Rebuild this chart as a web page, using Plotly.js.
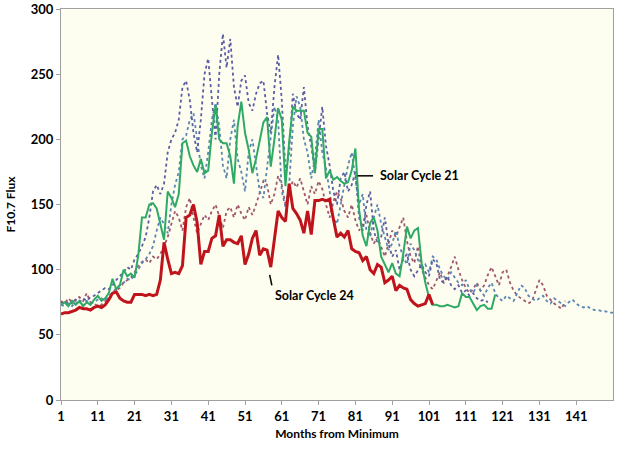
<!DOCTYPE html>
<html>
<head>
<meta charset="utf-8">
<script src="https://cdn.plot.ly/plotly-3.0.1.min.js"></script>
<style>html,body{margin:0;padding:0;background:#fff;}#chart{width:624px;height:450px;}</style>
</head>
<body>
<div id="chart"></div>
<script>
// Months from minimum tick labels
const tickMonths = [1, 11, 21, 31, 41, 51, 61, 71, 81, 91, 101, 111, 121, 131, 141];

// Solar Cycle 24 (solid red)
const cycle24 = [66,67,67,68,69,71,70,70,69,71,72,71,73,77,82,83,78,76,75,75,
81,81,81,80,81,80,81,92,121,108,97,98,97,103,140,142,150,136,104,114,
114,124,126,142,118,123,123,121,120,126,104,112,124,130,111,116,115,102,125,145,
140,137,166,147,143,138,128,145,127,153,153,154,153,154,139,125,128,125,130,116,
114,113,107,110,100,97,104,102,90,92,95,84,88,86,85,77,74,72,73,74,81,73];

// Solar Cycle 21 (solid green)
const cycle21 = [73,75,72,76,73,76,72,75,73,77,80,76,78,82,93,85,88,100,95,97,
94,111,140,140,150,151,147,136,123,160,155,148,158,197,199,187,180,175,185,174,
176,205,226,200,197,197,187,166,210,229,205,192,174,185,200,213,217,179,200,224,
215,164,198,225,222,222,222,205,202,174,208,208,170,176,169,171,168,166,167,176,
193,146,126,118,136,140,130,110,104,98,105,97,95,112,133,124,130,132,105,90,
79,73,73,72,72,73,72,71,72,82,79,79,74,69,72,73,70,70,81];

// Dotted cycle (high peaks, blue-violet)
const cycleA = [75,73,76,74,77,75,78,76,79,80,82,84,86,85,88,92,95,98,102,100,
108,112,118,125,140,160,165,158,166,190,200,205,215,240,245,230,205,190,215,250,
262,230,200,250,281,255,277,240,225,245,249,228,222,235,243,245,220,205,240,265,
230,175,190,235,220,215,240,210,195,175,200,225,195,180,160,150,170,175,160,165,
175,140,130,150,160,130,120,125,140,120,110,115,100,108,112,100,95,100,104,98,
95,108,105,92,90,95,88,85,88,82,84,80,82,78,76,77,75];

// Dotted cycle (long tail, steel blue)
const cycleB = [73,72,74,72,75,74,73,76,74,75,77,78,76,80,82,86,88,90,93,92,
96,100,105,108,112,118,130,140,135,128,150,165,175,200,203,215,220,200,180,170,
190,215,228,210,180,170,200,215,185,175,160,190,200,180,160,155,178,200,225,215,
160,148,165,210,233,225,200,190,170,185,215,190,178,160,140,135,150,165,180,190,
170,150,158,130,125,140,150,135,125,115,120,130,118,110,104,120,115,108,100,104,
98,110,108,100,95,92,98,94,90,88,92,85,82,88,84,80,86,90,82,78,
76,80,78,76,82,88,86,80,78,76,78,80,76,74,78,76,74,72,75,77,
74,72,71,72,70,69,69,68,68,67,67];

// Dotted cycle (lower, mauve red)
const cycleC = [76,74,78,75,77,79,76,82,75,74,72,73,76,78,80,84,86,90,92,94,
98,103,106,108,105,110,108,112,118,125,135,145,140,130,148,155,140,128,135,142,
138,145,150,140,132,145,148,140,150,143,138,148,142,150,160,168,165,150,158,172,
165,150,160,168,163,170,160,150,164,158,168,162,150,140,152,160,155,145,140,150,
138,130,135,142,128,120,125,118,110,120,130,125,132,140,122,110,105,118,100,94,
88,85,92,98,90,95,102,110,100,92,86,82,85,90,84,88,96,102,95,88,
98,100,90,84,80,78,76,74,76,84,92,88,80,77,74,72,70,76];

const months = n => Array.from({length: n}, (_, i) => i + 1);

const dotted = (y, color) => ({
  x: months(y.length), y: y, type: 'scatter', mode: 'lines',
  line: {color: color, width: 1.8, dash: 'dot'}, hoverinfo: 'skip', showlegend: false
});

const traces = [
  dotted(cycleC, '#A0586E'),
  dotted(cycleB, '#5A86B2'),
  dotted(cycleA, '#5B5EA3'),
  {x: months(cycle21.length), y: cycle21, type: 'scatter', mode: 'lines',
   line: {color: '#2EAA66', width: 2}, showlegend: false},
  {x: months(cycle24.length), y: cycle24, type: 'scatter', mode: 'lines',
   line: {color: '#C0141C', width: 3}, showlegend: false}
];

const fam = 'Lato, "Open Sans", sans-serif';
const boldFont = size => ({family: fam, size: size, color: '#000', weight: 'bold'});

const layout = {
  width: 624, height: 450,
  margin: {l: 61, r: 11, t: 9, b: 50},
  paper_bgcolor: '#FFFFFF',
  plot_bgcolor: '#FEFEF0',
  font: boldFont(12),
  showlegend: false,
  xaxis: {
    range: [1, 151], tickvals: tickMonths, ticktext: tickMonths.map(String),
    ticks: 'outside', ticklen: 4, tickcolor: '#A0A0A0',
    showline: true, linecolor: '#A0A0A0', linewidth: 1, mirror: true,
    showgrid: false, zeroline: false,
    tickfont: boldFont(13),
    title: {text: 'Months from Minimum', standoff: 7, font: boldFont(12)}
  },
  yaxis: {
    range: [0, 300], dtick: 50,
    ticks: 'outside', ticklen: 4, tickcolor: '#A0A0A0',
    showline: true, linecolor: '#A0A0A0', linewidth: 1, mirror: true,
    showgrid: false, zeroline: false,
    tickfont: boldFont(13),
    title: {text: 'F10.7 Flux', standoff: 12, font: boldFont(12)}
  },
  annotations: [
    {x: 87.2, y: 172, xref: 'x', yref: 'y', text: 'Solar Cycle 21', showarrow: false,
     xanchor: 'left', yanchor: 'middle', font: boldFont(12.5)},
    {x: 58.7, y: 80.5, xref: 'x', yref: 'y', text: 'Solar Cycle 24', showarrow: false,
     xanchor: 'left', yanchor: 'middle', font: boldFont(12.5)}
  ],
  shapes: [
    {type: 'line', xref: 'x', yref: 'y', x0: 81.6, y0: 172, x1: 85.8, y1: 172,
     line: {color: '#000', width: 1.5}},
    {type: 'line', xref: 'x', yref: 'y', x0: 57.7, y0: 96, x1: 58.3, y1: 88,
     line: {color: '#000', width: 1.5}}
  ]
};

Plotly.newPlot('chart', traces, layout, {displayModeBar: false, staticPlot: true});
</script>
</body>
</html>
